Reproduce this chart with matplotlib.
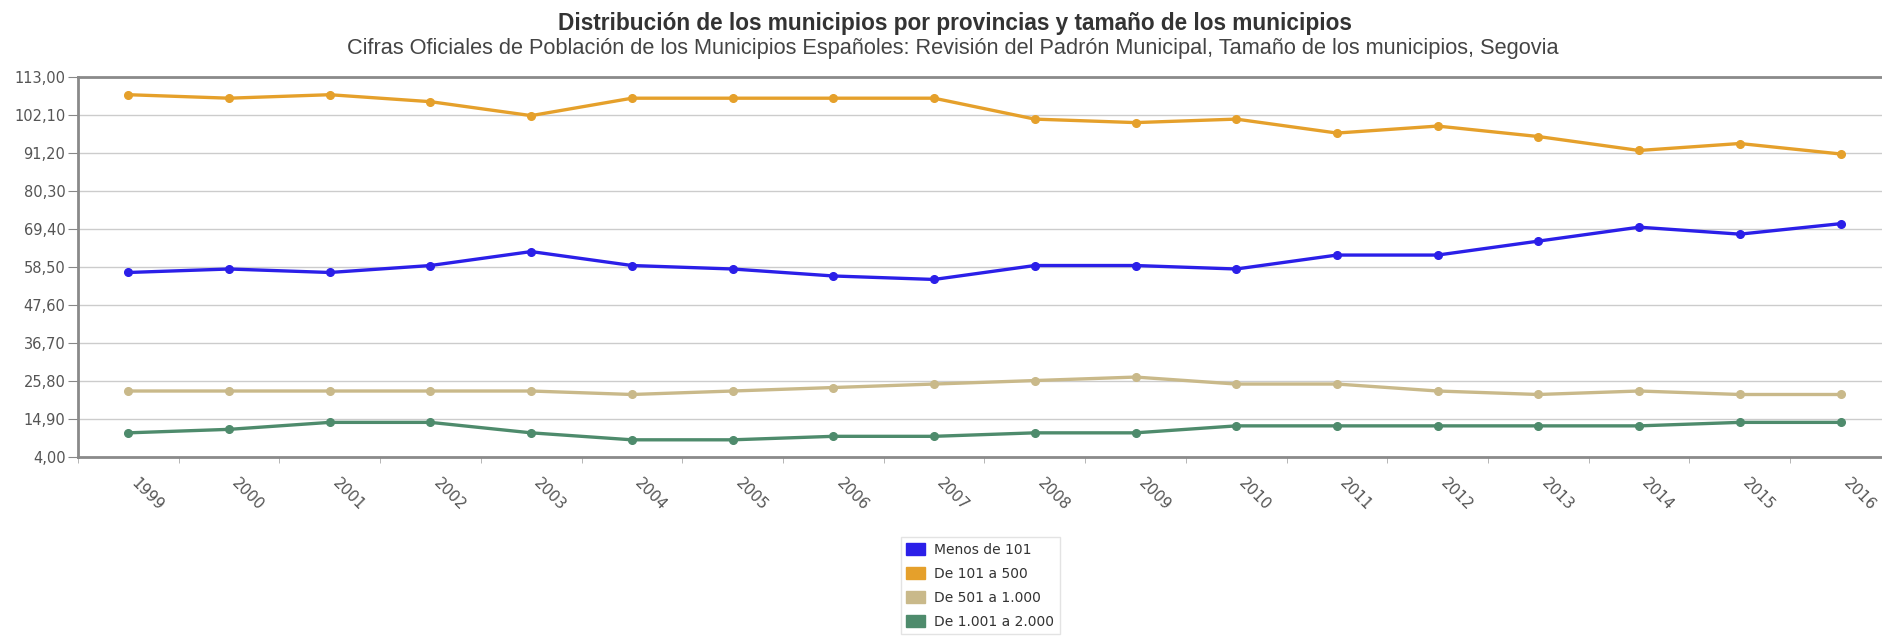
import matplotlib.pyplot as plt
from matplotlib.patches import Patch
from matplotlib.ticker import FuncFormatter

years = [str(y) for y in range(1999, 2017)]

menos_101 = [57, 58, 57, 59, 63, 59, 58, 56, 55, 59, 59, 58, 62, 62, 66, 70, 68, 71]
de_101_500 = [108, 107, 108, 106, 102, 107, 107, 107, 107, 101, 100, 101, 97, 99, 96, 92, 94, 91]
de_501_1000 = [23, 23, 23, 23, 23, 22, 23, 24, 25, 26, 27, 25, 25, 23, 22, 23, 22, 22]
de_1001_2000 = [11, 12, 14, 14, 11, 9, 9, 10, 10, 11, 11, 13, 13, 13, 13, 13, 14, 14]

series = [
    ("Menos de 101", menos_101, "#2b1fe8"),
    ("De 101 a 500", de_101_500, "#e5a02b"),
    ("De 501 a 1.000", de_501_1000, "#c9b98a"),
    ("De 1.001 a 2.000", de_1001_2000, "#4e8b6c"),
]

y_ticks = [4 + 10.9 * i for i in range(11)]

fig = plt.figure(figsize=(18.83, 6.44), dpi=100)
ax = fig.add_axes([0.0414, 0.29, 0.9628, 0.59])

x = list(range(len(years)))
for name, vals, col in series:
    ax.plot(x, vals, color=col, lw=2.4, marker="o", ms=5.5, label=name, zorder=3)

ax.set_xlim(-0.5, len(years) - 0.5)
ax.set_ylim(4, 113)
ax.set_yticks(y_ticks)
ax.yaxis.set_major_formatter(FuncFormatter(lambda v, p: f"{v:.2f}".replace(".", ",")))
ax.grid(axis="y", color="#cccccc", lw=1)
ax.set_axisbelow(True)

ax.set_xticks(x)
ax.set_xticklabels(years, rotation=-45, ha="left", va="top")
ax.set_xticks([i - 0.5 for i in range(len(years) + 1)], minor=True)
ax.tick_params(axis="x", which="major", length=0, pad=13, labelsize=11, labelcolor="#555555")
ax.tick_params(axis="x", which="minor", length=4, color="#aaaaaa")
ax.tick_params(axis="y", length=7, color="#888888", labelsize=10.5, labelcolor="#555555", pad=2)

for side in ["left", "bottom", "top"]:
    ax.spines[side].set_color("#8a8a8a")
    ax.spines[side].set_linewidth(2)
ax.spines["right"].set_visible(False)

fig.text(0.507, 0.954, "Distribución de los municipios por provincias y tamaño de los municipios",
         ha="center", va="baseline", fontsize=16.3, fontweight="bold", color="#333333",
         family="Liberation Sans")
fig.text(0.506, 0.941, "Cifras Oficiales de Población de los Municipios Españoles: Revisión del Padrón Municipal, "
         "Tamaño de los municipios, Segovia",
         ha="center", va="top", fontsize=15.7, color="#444444", family="Liberation Sans")

handles = [Patch(facecolor=col, edgecolor=col, label=name) for name, vals, col in series]
fig.legend(handles=handles, loc="upper center", bbox_to_anchor=(0.5205, 0.166), fontsize=10,
           frameon=True, edgecolor="#dddddd", fancybox=False, handlelength=1.35, handleheight=1.0,
           handletextpad=0.65, borderpad=0.4, labelspacing=0.72, borderaxespad=0,
           labelcolor="#333333")

plt.savefig("out.png", dpi=100)
